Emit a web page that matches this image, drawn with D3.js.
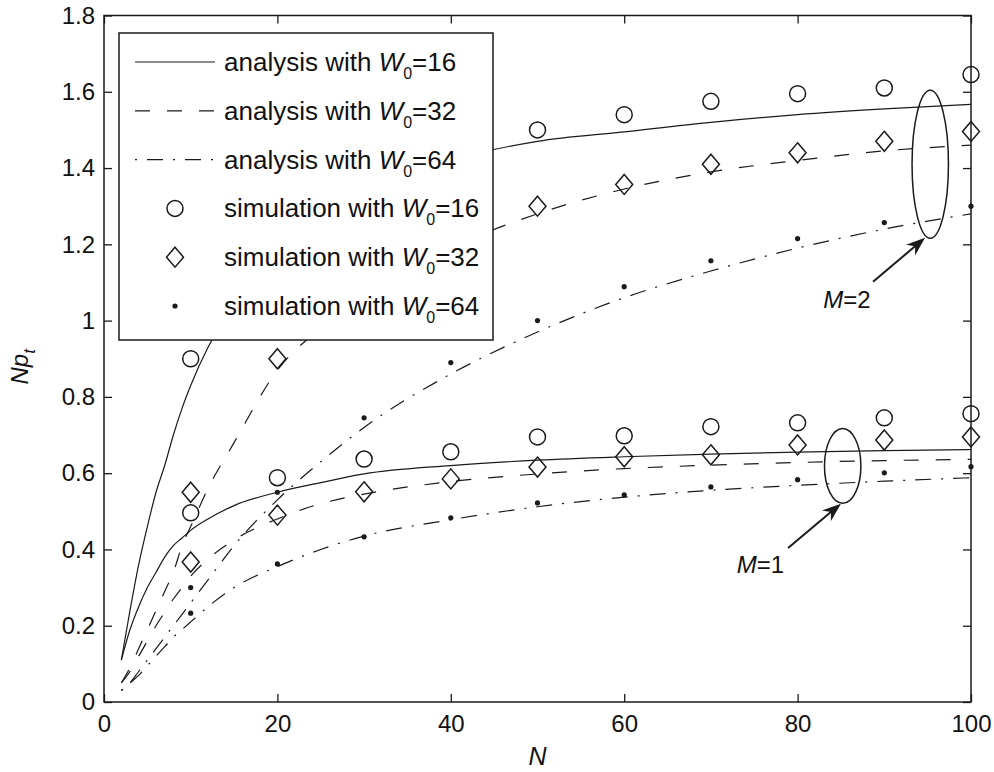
<!DOCTYPE html>
<html lang="en">
<head>
<meta charset="utf-8">
<title>Np_t versus N</title>
<script src="https://d3js.org/d3.v7.min.js"></script>
<style>
  body { margin: 0; background: #fff; }
  text { font-family: "Liberation Sans", Arial, sans-serif; fill: #111; }
</style>
</head>
<body>
<script>
// analysis curves, sampled at nGrid
var nGrid   = [2, 3, 4, 5, 6, 7, 8, 9, 10, 12, 15, 20, 25, 30, 40, 50, 60, 70, 80, 90, 100];
var ana16m2 = [0.11, 0.24, 0.36, 0.46, 0.55, 0.62, 0.70, 0.77, 0.83, 0.93, 1.04, 1.17, 1.26, 1.33, 1.42, 1.47, 1.495, 1.52, 1.54, 1.555, 1.567];
var ana32m2 = [0.05, 0.09, 0.14, 0.19, 0.24, 0.29, 0.34, 0.41, 0.46, 0.56, 0.68, 0.87, 0.98, 1.06, 1.19, 1.28, 1.345, 1.39, 1.42, 1.445, 1.46];
var ana64m2 = [0.03, 0.05, 0.08, 0.11, 0.14, 0.17, 0.20, 0.23, 0.26, 0.32, 0.41, 0.53, 0.63, 0.72, 0.86, 0.97, 1.06, 1.13, 1.19, 1.24, 1.28];
var ana16m1 = [0.11, 0.19, 0.25, 0.30, 0.34, 0.38, 0.41, 0.43, 0.45, 0.48, 0.515, 0.55, 0.575, 0.598, 0.62, 0.634, 0.643, 0.65, 0.655, 0.659, 0.662];
var ana32m1 = [0.05, 0.08, 0.12, 0.16, 0.20, 0.235, 0.27, 0.30, 0.33, 0.375, 0.425, 0.48, 0.52, 0.545, 0.578, 0.598, 0.612, 0.621, 0.628, 0.633, 0.636];
var ana64m1 = [0.03, 0.05, 0.07, 0.095, 0.12, 0.145, 0.17, 0.19, 0.21, 0.25, 0.30, 0.355, 0.40, 0.435, 0.478, 0.512, 0.537, 0.555, 0.568, 0.579, 0.588];

// simulation points
var nSim   = [10, 20, 30, 40, 50, 60, 70, 80, 90, 100];
var sim16m2 = [0.90, 1.28, 1.40, 1.46, 1.50, 1.54, 1.575, 1.595, 1.61, 1.645];
var sim32m2 = [0.55, 0.90, 1.08, 1.20, 1.30, 1.357, 1.41, 1.44, 1.47, 1.496];
var sim64m2 = [0.30, 0.55, 0.745, 0.89, 1.0, 1.089, 1.157, 1.215, 1.257, 1.30];
var sim16m1 = [0.496, 0.588, 0.637, 0.656, 0.695, 0.698, 0.722, 0.732, 0.745, 0.756];
var sim32m1 = [0.367, 0.49, 0.551, 0.585, 0.616, 0.643, 0.648, 0.674, 0.687, 0.695];
var sim64m1 = [0.233, 0.362, 0.433, 0.483, 0.522, 0.543, 0.564, 0.583, 0.601, 0.617];

var xTicks = [0, 20, 40, 60, 80, 100];
var yTicks = [0, 0.2, 0.4, 0.6, 0.8, 1, 1.2, 1.4, 1.6, 1.8];
var legendLabels = ["analysis with ", "analysis with ", "analysis with ",
                    "simulation with ", "simulation with ", "simulation with "];
var legendW0 = ["16", "32", "64", "16", "32", "64"];

var w = 994, h = 772;
var margin = {left: 104, right: 23, top: 15.5, bottom: 70};

var svg = d3.select("body").append("svg").attr("width", w).attr("height", h);

var x = d3.scaleLinear().domain([0, 100]).range([margin.left, w - margin.right]);
var y = d3.scaleLinear().domain([0, 1.8]).range([h - margin.bottom, margin.top]);

var ink = "#1a1a1a";
var dashStyles = [null, "15,17", "2,10,16,10"];

// axes, matlab style inward ticks
function styleAxis(g) {
  g.select(".domain").remove();
  g.selectAll(".tick line").attr("stroke", ink).attr("stroke-width", 1.3);
  g.selectAll("text").attr("font-size", 24).attr("fill", "#111");
}
svg.append("g").attr("transform", "translate(0," + y(0) + ")")
   .call(d3.axisBottom(x).tickValues(xTicks).tickSize(-8).tickPadding(13))
   .call(styleAxis);
svg.append("g").attr("transform", "translate(0," + y(1.8) + ")")
   .call(d3.axisTop(x).tickValues(xTicks).tickSize(-8).tickFormat(""))
   .call(styleAxis);
svg.append("g").attr("transform", "translate(" + x(0) + ",0)")
   .call(d3.axisLeft(y).tickValues(yTicks).tickSize(-8).tickPadding(9)
         .tickFormat(function(d) { return String(+d.toFixed(1)); }))
   .call(styleAxis);
svg.append("g").attr("transform", "translate(" + x(100) + ",0)")
   .call(d3.axisRight(y).tickValues(yTicks).tickSize(-8).tickFormat(""))
   .call(styleAxis);

svg.append("rect")
   .attr("x", x(0)).attr("y", y(1.8))
   .attr("width", x(100) - x(0)).attr("height", y(0) - y(1.8))
   .attr("fill", "none").attr("stroke", ink).attr("stroke-width", 1.5);

// axis labels
svg.append("text").attr("x", x(50)).attr("y", y(0) + 63)
   .attr("text-anchor", "middle").attr("font-size", 25).attr("font-style", "italic").text("N");
var yl = svg.append("text")
   .attr("transform", "translate(" + (x(0) - 76) + "," + y(0.879) + ") rotate(-90)")
   .attr("text-anchor", "middle").attr("font-size", 24).attr("font-style", "italic");
yl.append("tspan").text("Np");
yl.append("tspan").attr("dy", 7).attr("font-size", 17).text("t");

// analysis curves
var line = d3.line().x(function(d) { return x(d[0]); }).y(function(d) { return y(d[1]); })
             .curve(d3.curveMonotoneX);
var curves = [ana16m2, ana32m2, ana64m2, ana16m1, ana32m1, ana64m1];
curves.forEach(function(vals, i) {
  svg.append("path")
     .datum(nGrid.map(function(n, k) { return [n, vals[k]]; }))
     .attr("d", line)
     .attr("fill", "none").attr("stroke", ink).attr("stroke-width", 1.2)
     .attr("stroke-dasharray", dashStyles[i % 3]);
});

// markers
function drawMarker(g, kind, cx, cy) {
  if (kind === 0) {
    g.append("circle").attr("cx", cx).attr("cy", cy).attr("r", 8)
     .attr("fill", "none").attr("stroke", ink).attr("stroke-width", 1.5);
  } else if (kind === 1) {
    g.append("path").attr("d", "M" + cx + "," + (cy - 10) + "L" + (cx + 8.5) + "," + cy +
                      "L" + cx + "," + (cy + 10) + "L" + (cx - 8.5) + "," + cy + "Z")
     .attr("fill", "none").attr("stroke", ink).attr("stroke-width", 1.5);
  } else {
    g.append("circle").attr("cx", cx).attr("cy", cy).attr("r", 2.6).attr("fill", ink);
  }
}
var sims = [sim16m2, sim32m2, sim64m2, sim16m1, sim32m1, sim64m1];
var markG = svg.append("g");
sims.forEach(function(vals, i) {
  nSim.forEach(function(n, k) { drawMarker(markG, i % 3, x(n), y(vals[k])); });
});

// annotations
function annotate(cN, cV, rN, rV, fromN, fromV, toN, toV, labN, labV, label) {
  svg.append("ellipse")
     .attr("cx", x(cN)).attr("cy", y(cV))
     .attr("rx", x(rN) - x(0)).attr("ry", y(0) - y(rV))
     .attr("fill", "none").attr("stroke", ink).attr("stroke-width", 1.5);
  var x1 = x(fromN), y1 = y(fromV), x2 = x(toN), y2 = y(toV);
  var ang = Math.atan2(y2 - y1, x2 - x1);
  svg.append("line").attr("x1", x1).attr("y1", y1)
     .attr("x2", x2 - 10 * Math.cos(ang)).attr("y2", y2 - 10 * Math.sin(ang))
     .attr("stroke", ink).attr("stroke-width", 2);
  var hl = 19, hw = 7;
  var bx = x2 - hl * Math.cos(ang), by = y2 - hl * Math.sin(ang);
  var px = -Math.sin(ang) * hw, py = Math.cos(ang) * hw;
  svg.append("path")
     .attr("d", "M" + x2 + "," + y2 + "L" + (bx + px) + "," + (by + py) +
                "L" + (x2 - 13 * Math.cos(ang)) + "," + (y2 - 13 * Math.sin(ang)) +
                "L" + (bx - px) + "," + (by - py) + "Z")
     .attr("fill", ink);
  var t = svg.append("text").attr("x", x(labN)).attr("y", y(labV))
     .attr("text-anchor", "middle").attr("font-size", 24);
  t.append("tspan").attr("font-style", "italic").text("M");
  t.append("tspan").text(label);
}
annotate(95.3, 1.41, 2.1, 0.194, 88.7, 1.102, 94.7, 1.217, 85.7, 1.034, "=2");
annotate(85.2, 0.619, 2.1, 0.098, 78.9, 0.404, 85.0, 0.52, 75.7, 0.339, "=1");

// legend
var lg = svg.append("g").attr("transform", "translate(" + (x(0) + 15) + "," + (y(1.8) + 17.5) + ")");
lg.append("rect").attr("width", 374).attr("height", 307)
  .attr("fill", "#fff").attr("stroke", ink).attr("stroke-width", 1.5);
legendLabels.forEach(function(lab, i) {
  var cy = 29 + i * 48.8;
  if (i < 3) {
    lg.append("line").attr("x1", 16).attr("x2", 96).attr("y1", cy).attr("y2", cy)
      .attr("stroke", ink).attr("stroke-width", 1.2).attr("stroke-dasharray", dashStyles[i]);
  } else {
    drawMarker(lg, i - 3, 56, cy);
  }
  var t = lg.append("text").attr("x", 105).attr("y", cy + 9).attr("font-size", 26);
  t.append("tspan").text(lab);
  t.append("tspan").attr("font-style", "italic").text("W");
  t.append("tspan").attr("dy", 8).attr("font-size", 16).text("0");
  t.append("tspan").attr("dy", -8).text("=" + legendW0[i]);
});
</script>
</body>
</html>
